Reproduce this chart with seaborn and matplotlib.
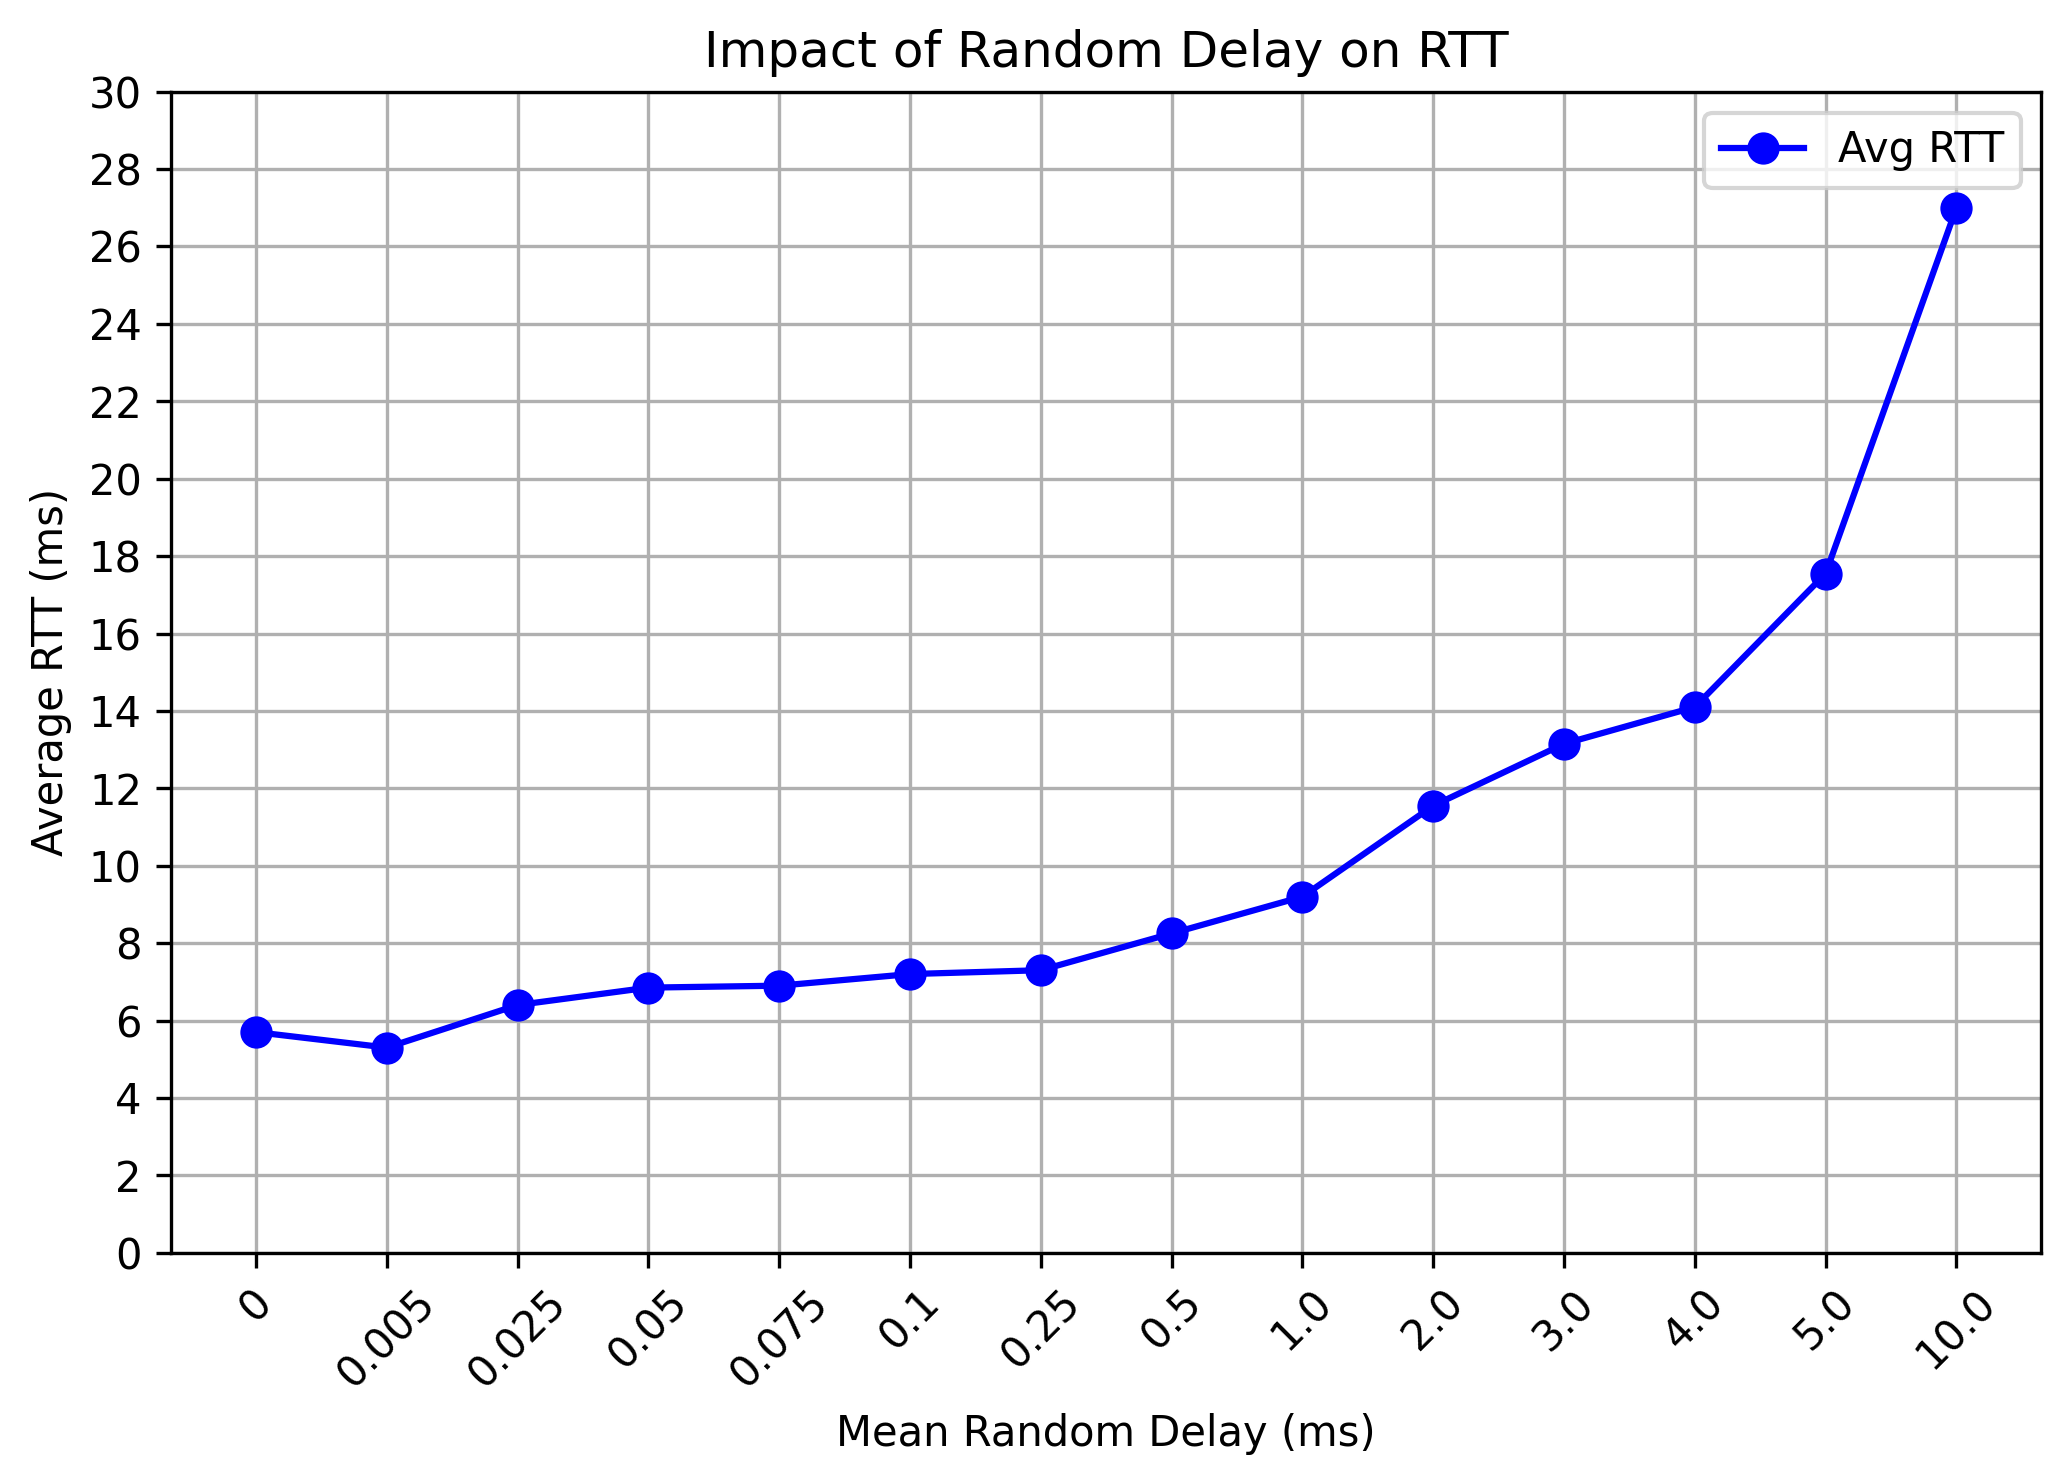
import matplotlib.pyplot as plt
import seaborn as sns

delays = ["0", "0.005", "0.025", "0.05", "0.075", "0.1", "0.25", "0.5",
          "1.0", "2.0", "3.0", "4.0", "5.0", "10.0"]
avg_rtt = [5.7, 5.3, 6.4, 6.85, 6.9, 7.2, 7.3, 8.25, 9.2, 11.55, 13.15, 14.1, 17.55, 27.0]

fig = plt.figure(figsize=(2060 / 300, 1479 / 300), dpi=300)
ax = fig.add_axes([0.083, 0.153, 0.908, 0.785])
positions = list(range(len(delays)))
sns.lineplot(x=positions, y=avg_rtt, marker="o", color="blue", markersize=7,
             markeredgecolor="blue", label="Avg RTT", ax=ax)
ax.set_xticks(positions)
ax.set_xticklabels(delays, rotation=45)
ax.set_yticks(range(0, 31, 2))
ax.set_ylim(0, 30)
ax.grid(True)
ax.set_xlabel("Mean Random Delay (ms)")
ax.set_ylabel("Average RTT (ms)")
ax.set_title("Impact of Random Delay on RTT")
ax.legend(loc="upper right")
fig.savefig("out.png", dpi=300)
